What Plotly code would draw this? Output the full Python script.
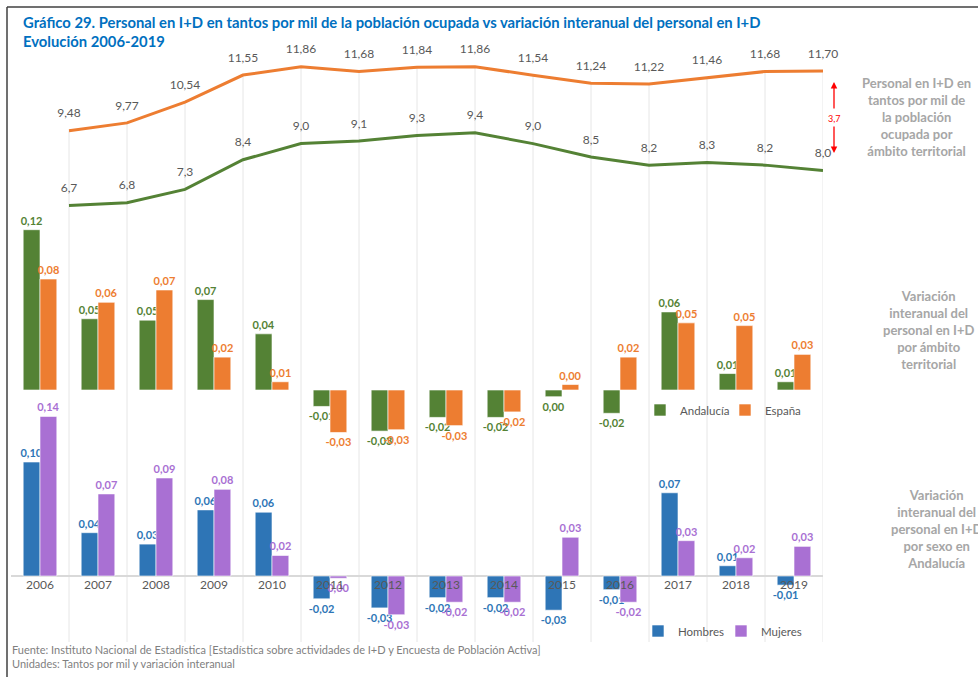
import plotly.graph_objects as go

# ---------------- data ----------------
years = ["2006", "2007", "2008", "2009", "2010", "2011", "2012",
         "2013", "2014", "2015", "2016", "2017", "2018", "2019"]

# Personal en I+D en tantos por mil de la población ocupada
espana_tpm = [9.48, 9.77, 10.54, 11.55, 11.86, 11.68, 11.84, 11.86, 11.54, 11.24, 11.22, 11.46, 11.68, 11.70]
andalucia_tpm = [6.7, 6.8, 7.3, 8.4, 9.0, 9.1, 9.3, 9.4, 9.0, 8.5, 8.2, 8.3, 8.2, 8.0]

# Variación interanual por ámbito territorial
andalucia_var = [0.117, 0.052, 0.051, 0.066, 0.041, -0.012, -0.030, -0.020, -0.020, -0.0049, -0.017, 0.057, 0.012, 0.006]
espana_var = [0.081, 0.064, 0.073, 0.024, 0.006, -0.031, -0.029, -0.026, -0.016, 0.004, 0.024, 0.049, 0.047, 0.026]

# Variación interanual por sexo en Andalucía
hombres_var = [0.100, 0.038, 0.028, 0.058, 0.056, -0.020, -0.028, -0.019, -0.019, -0.030, -0.012, 0.073, 0.009, -0.008]
mujeres_var = [0.140, 0.072, 0.086, 0.076, 0.018, -0.002, -0.034, -0.023, -0.023, 0.034, -0.023, 0.031, 0.016, 0.026]

# ---------------- style ----------------
GREEN = "#548235"
ORANGE = "#ED7D31"
BLUE = "#2E75B6"
PURPLE = "#A970D3"
GRAY_TXT = "#595959"
FONT = "Lato, 'Open Sans', sans-serif"

W, H = 978, 677
ML, MR = 11, 155
PW = W - ML - MR


def X(px):
    return (px - ML) / PW


def Y(py):
    return 1 - py / H


def fmt2(v):
    r = round(v, 2)
    return ("0,00" if r == 0 else f"{v:.2f}").replace(".", ",")


def fmt1(v):
    return f"{v:.1f}".replace(".", ",")


idx = list(range(len(years)))
line_x = [i + 0.5 for i in idx]
BW = 0.29

fig = go.Figure()

# lines (top panel)
line_common = dict(mode="lines+markers+text", yaxis="y", textposition="top center",
                   marker=dict(size=15, color="rgba(0,0,0,0)"),
                   showlegend=False, cliponaxis=False, hoverinfo="skip")
fig.add_trace(go.Scatter(
    x=line_x, y=espana_tpm, line=dict(color=ORANGE, width=3),
    text=[fmt2(v) for v in espana_tpm],
    textfont=dict(size=12, color=GRAY_TXT, family=FONT), **line_common))
fig.add_trace(go.Scatter(
    x=line_x, y=andalucia_tpm, line=dict(color=GREEN, width=3),
    text=[fmt1(v) for v in andalucia_tpm],
    textfont=dict(size=12, color=GRAY_TXT, family=FONT), **line_common))

# bars: territorial variation (middle)
bar_common = dict(textposition="outside", constraintext="none", cliponaxis=False,
                  marker_line=dict(color="rgba(255,255,255,0.6)", width=1))
fig.add_trace(go.Bar(
    x=idx, y=andalucia_var, yaxis="y2", name="Andalucía", legend="legend",
    offset=-BW, width=BW, marker_color=GREEN,
    text=[fmt2(v) for v in andalucia_var],
    textfont=dict(size=11, color=GREEN, family=FONT, weight="bold"), **bar_common))
fig.add_trace(go.Bar(
    x=idx, y=espana_var, yaxis="y2", name="España", legend="legend",
    offset=0, width=BW, marker_color=ORANGE,
    text=[fmt2(v) for v in espana_var],
    textfont=dict(size=11, color=ORANGE, family=FONT, weight="bold"), **bar_common))

# bars: by sex (bottom)
fig.add_trace(go.Bar(
    x=idx, y=hombres_var, yaxis="y3", name="Hombres", legend="legend2",
    offset=-BW, width=BW, marker_color=BLUE,
    text=[fmt2(v) for v in hombres_var],
    textfont=dict(size=11, color=BLUE, family=FONT, weight="bold"), **bar_common))
fig.add_trace(go.Bar(
    x=idx, y=mujeres_var, yaxis="y3", name="Mujeres", legend="legend2",
    offset=0, width=BW, marker_color=PURPLE,
    text=[fmt2(v) for v in mujeres_var],
    textfont=dict(size=11, color=PURPLE, family=FONT, weight="bold"), **bar_common))

# axis ranges so that the three panels sit at their places
k1 = 26.9
r1_top = 9.48 + 130.7 / k1
r1 = [r1_top - H / k1, r1_top]
k2 = 1370.0
r2 = [390 / k2 - H / k2, 390 / k2]
k3 = 1140.0
r3 = [576 / k3 - H / k3, 576 / k3]

drop_bottom = r1_top - 642 / k1

shapes = []
for xv, yv in zip(line_x, espana_tpm):
    shapes.append(dict(type="line", xref="x", yref="y", x0=xv, x1=xv, y0=yv, y1=drop_bottom,
                       line=dict(color="#E6E6E6", width=1), layer="below"))
shapes.append(dict(type="line", xref="paper", yref="paper", x0=X(7), x1=X(978), y0=Y(7), y1=Y(7),
                   line=dict(color="#404040", width=1.5)))
shapes.append(dict(type="line", xref="paper", yref="paper", x0=X(7), x1=X(7), y0=Y(7), y1=Y(677),
                   line=dict(color="#404040", width=1.5)))

annotations = []
annotations.append(dict(
    xref="paper", yref="paper", x=X(21), y=Y(11), xanchor="left", yanchor="top", align="left",
    text="<b>Gráfico 29. Personal en I+D en tantos por mil de la población ocupada vs variación interanual del personal en I+D<br>Evolución 2006-2019</b>",
    font=dict(size=14.8, color="#0070C0", family=FONT), showarrow=False))

side_font = dict(size=13, color="#A6A6A6", family=FONT)
annotations.append(dict(
    xref="paper", yref="paper", x=X(916), y=Y(117), xanchor="center", yanchor="middle",
    text="<b>Personal en I+D en<br>tantos por mil de<br>la población<br>ocupada por<br>ámbito territorial</b>",
    font=side_font, showarrow=False))
annotations.append(dict(
    xref="paper", yref="paper", x=X(928), y=Y(330), xanchor="center", yanchor="middle",
    text="<b>Variación<br>interanual del<br>personal en I+D<br>por ámbito<br>territorial</b>",
    font=side_font, showarrow=False))
annotations.append(dict(
    xref="paper", yref="paper", x=X(936), y=Y(529), xanchor="center", yanchor="middle",
    text="<b>Variación<br>interanual del<br>personal en I+D<br>por sexo en<br>Andalucía</b>",
    font=side_font, showarrow=False))

gap = espana_tpm[-1] - andalucia_tpm[-1]
annotations.append(dict(
    xref="paper", yref="paper", x=X(834), y=Y(119), xanchor="center", yanchor="middle",
    text=fmt1(gap), font=dict(size=9, color="#FF0000", family=FONT), showarrow=False))
annotations.append(dict(
    xref="paper", yref="paper", x=X(834), y=Y(82), ax=0, ay=28, text="",
    showarrow=True, arrowhead=2, arrowsize=1, arrowwidth=1.3, arrowcolor="#FF0000"))
annotations.append(dict(
    xref="paper", yref="paper", x=X(834), y=Y(153), ax=0, ay=-28, text="",
    showarrow=True, arrowhead=2, arrowsize=1, arrowwidth=1.3, arrowcolor="#FF0000"))

annotations.append(dict(
    xref="paper", yref="paper", x=X(10), y=Y(649), xanchor="left", yanchor="middle", align="left",
    text="Fuente: Instituto Nacional de Estadística [Estadística sobre actividades de I+D y Encuesta de Población Activa]",
    font=dict(size=11, color="#7F7F7F", family=FONT), showarrow=False))
annotations.append(dict(
    xref="paper", yref="paper", x=X(10), y=Y(663), xanchor="left", yanchor="middle", align="left",
    text="Unidades: Tantos por mil y variación interanual",
    font=dict(size=11, color="#7F7F7F", family=FONT), showarrow=False))

fig.update_layout(
    width=W, height=H,
    margin=dict(l=ML, r=MR, t=0, b=0),
    paper_bgcolor="white", plot_bgcolor="white",
    font=dict(family=FONT, color=GRAY_TXT),
    barmode="overlay",
    xaxis=dict(range=[-0.5, len(years) - 0.5], tickvals=idx, ticktext=years,
               anchor="free", position=Y(576), showgrid=False, zeroline=False, showline=False,
               ticks="", tickfont=dict(size=12, color=GRAY_TXT, family=FONT), fixedrange=True),
    yaxis=dict(range=r1, visible=False, fixedrange=True),
    yaxis2=dict(range=r2, overlaying="y", visible=False, fixedrange=True),
    yaxis3=dict(range=r3, overlaying="y", showgrid=False, showticklabels=False, showline=False,
                zeroline=True, zerolinecolor="#D9D9D9", zerolinewidth=1.5, ticks="", fixedrange=True),
    legend=dict(orientation="h", x=X(640), y=Y(410), xanchor="left", yanchor="middle",
                font=dict(size=11.5, color=GRAY_TXT, family=FONT), bgcolor="rgba(0,0,0,0)",
                itemwidth=30, traceorder="normal", entrywidth=40, entrywidthmode="pixels"),
    legend2=dict(orientation="h", x=X(638), y=Y(631), xanchor="left", yanchor="middle",
                 font=dict(size=11.5, color=GRAY_TXT, family=FONT), bgcolor="rgba(0,0,0,0)",
                 itemwidth=30, traceorder="normal", entrywidth=38, entrywidthmode="pixels"),
    shapes=shapes,
    annotations=annotations,
)

fig.write_html("out.html", config={"displayModeBar": False},
               post_script="document.body.style.margin='0';document.body.style.overflow='hidden';")
